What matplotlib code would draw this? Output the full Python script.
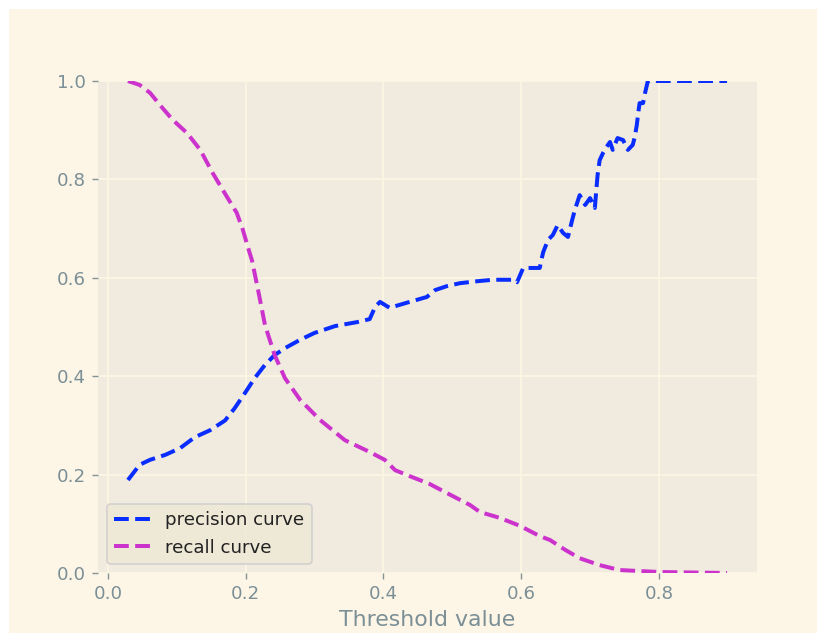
import matplotlib
matplotlib.use("Agg")
import matplotlib.pyplot as plt
from matplotlib.patches import Rectangle

plt.style.use("Solarize_Light2")

# values
prec_thr = [0.029, 0.046, 0.061, 0.083, 0.105, 0.126, 0.148, 0.170, 0.184, 0.199,
            0.213, 0.228, 0.242, 0.257, 0.279, 0.300, 0.330, 0.362, 0.380, 0.388,
            0.395, 0.402, 0.409, 0.438, 0.463, 0.475, 0.492, 0.511, 0.536, 0.559,
            0.588, 0.594, 0.603, 0.617, 0.627, 0.630, 0.632, 0.639, 0.646, 0.653,
            0.661, 0.668, 0.674, 0.678, 0.685, 0.693, 0.700, 0.707, 0.711, 0.714,
            0.719, 0.724, 0.729, 0.733, 0.740, 0.748, 0.755, 0.762, 0.765, 0.768,
            0.770, 0.772, 0.777, 0.780, 0.784, 0.899]
prec_val = [0.189, 0.220, 0.230, 0.240, 0.254, 0.276, 0.290, 0.310, 0.335, 0.366,
            0.396, 0.423, 0.443, 0.457, 0.474, 0.488, 0.502, 0.510, 0.516, 0.541,
            0.551, 0.545, 0.539, 0.551, 0.561, 0.575, 0.583, 0.589, 0.593, 0.596,
            0.596, 0.591, 0.620, 0.620, 0.620, 0.640, 0.652, 0.677, 0.687, 0.707,
            0.691, 0.683, 0.717, 0.738, 0.768, 0.748, 0.762, 0.742, 0.809, 0.839,
            0.854, 0.866, 0.876, 0.860, 0.884, 0.880, 0.860, 0.870, 0.886, 0.911,
            0.935, 0.955, 0.955, 0.976, 1.000, 1.000]

rec_thr = [0.029, 0.046, 0.061, 0.078, 0.094, 0.115, 0.134, 0.152, 0.173, 0.187,
           0.196, 0.203, 0.209, 0.218, 0.228, 0.242, 0.257, 0.279, 0.308, 0.344,
           0.380, 0.402, 0.417, 0.438, 0.467, 0.497, 0.526, 0.540, 0.569, 0.598,
           0.627, 0.642, 0.664, 0.685, 0.714, 0.743, 0.772, 0.801, 0.899]
rec_val = [1.000, 0.992, 0.976, 0.947, 0.921, 0.894, 0.860, 0.813, 0.764, 0.732,
           0.697, 0.663, 0.636, 0.575, 0.504, 0.443, 0.396, 0.352, 0.311, 0.270,
           0.246, 0.230, 0.209, 0.197, 0.181, 0.159, 0.138, 0.124, 0.112, 0.096,
           0.075, 0.067, 0.047, 0.030, 0.016, 0.006, 0.004, 0.002, 0.000]

W, H, DPI = 817, 633, 125
fig = plt.figure(figsize=(W / DPI, H / DPI), dpi=DPI, facecolor="white")
fig.add_artist(Rectangle((9 / W, 0), 1 - 9 / W, 1 - 9 / H,
                         transform=fig.transFigure, facecolor="#fdf5e6",
                         edgecolor="none", zorder=-10))

ax = fig.add_axes([98 / W, (H - 573) / H, (757 - 98) / W, (573 - 81) / H])
ax.set_facecolor("#f1eadf")
for s in ax.spines.values():
    s.set_visible(False)

ax.plot(prec_thr, prec_val, "--", color="#0a2dff", lw=2.3, label="precision curve")
ax.plot(rec_thr, rec_val, "--", color="#cc33cc", lw=2.3, label="recall curve")

ax.set_ylim(0, 1)
ax.tick_params(labelsize=10.5, colors="#839496", labelcolor="#7b8f96")
ax.set_xlabel("Threshold value", fontsize=12.7, color="#7b8f96")
leg = ax.legend(loc="lower left", fontsize=10.5)
for t in leg.get_texts():
    t.set_color("#222222")

fig.savefig("out.png", dpi=DPI, facecolor="white")
